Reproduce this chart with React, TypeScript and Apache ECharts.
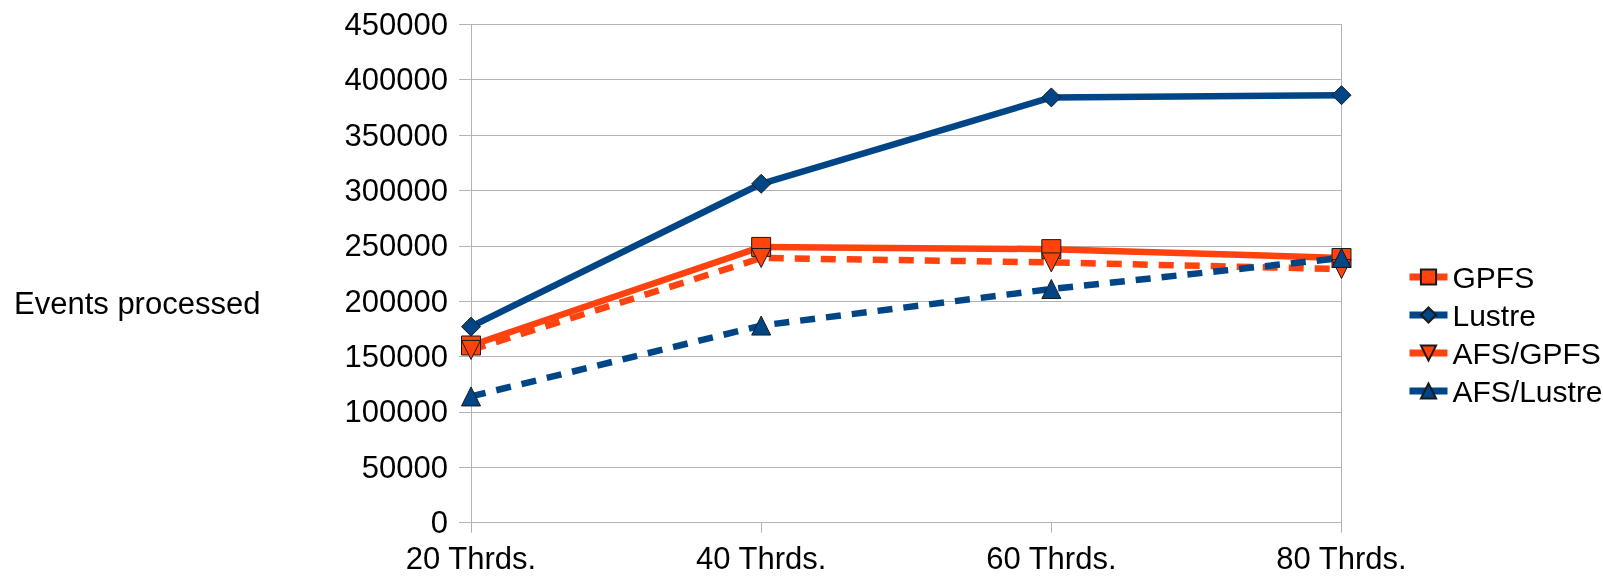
import React, { useEffect, useRef } from "react";
import * as echarts from "echarts";

const categories = ["20 Thrds.", "40 Thrds.", "60 Thrds.", "80 Thrds."];
const gpfs = [160000, 249000, 247000, 239000];
const lustre = [177000, 306000, 384000, 386000];
const afsGpfs = [156000, 239000, 235000, 229000];
const afsLustre = [114000, 178000, 211000, 239000];
const yTicks = { min: 0, max: 450000, interval: 50000 };
const yTitle = "Events processed";

const ORANGE = "#ff420e";
const BLUE = "#004586";
const GRID = "#b3b3b3";
const FONT = "Liberation Sans";

export default function App() {
  const ref = useRef<HTMLDivElement>(null);
  useEffect(() => {
    if (!ref.current) return;
    const chart = echarts.init(ref.current, undefined, { renderer: "svg" });
    const mk = (
      name: string,
      data: number[],
      color: string,
      dashed: boolean,
      symbol: string,
      rotate = 0
    ) => ({
      name,
      type: "line",
      data,
      symbol,
      symbolSize: 19,
      symbolRotate: rotate,
      showAllSymbol: true,
      lineStyle: { color, width: 6.5, type: dashed ? [15, 11] : "solid", cap: "butt" },
      itemStyle: { color, borderColor: "#1a1a1a", borderWidth: 1 },
      emphasis: { disabled: true },
    });
    chart.setOption({
      animation: false,
      textStyle: { fontFamily: FONT },
      grid: { left: 471, right: 261.5, top: 24.3, bottom: 53.3, containLabel: false },
      legend: {
        orient: "vertical",
        left: 1401,
        top: 257,
        itemWidth: 38,
        itemHeight: 19,
        itemGap: 8,
        lineStyle: { width: 7, type: "solid" },
        textStyle: { fontSize: 30, color: "#000", fontFamily: FONT },
        data: ["GPFS", "Lustre", "AFS/GPFS", "AFS/Lustre"],
      },
      xAxis: {
        type: "category",
        data: categories,
        boundaryGap: false,
        axisLine: { show: true, lineStyle: { color: GRID, width: 1 } },
        axisTick: { show: true, length: 10, lineStyle: { color: GRID } },
        axisLabel: {
          fontSize: 31,
          lineHeight: 28,
          color: "#000",
          margin: 22,
          fontFamily: FONT,
        },
        splitLine: { show: false },
      },
      yAxis: [
        {
          type: "value",
          min: yTicks.min,
          max: yTicks.max,
          interval: yTicks.interval,
          axisLine: { show: true, lineStyle: { color: GRID, width: 1 } },
          axisTick: { show: true, length: 12, lineStyle: { color: GRID } },
          axisLabel: {
            fontSize: 31,
            color: "#000",
            margin: 23,
            fontFamily: FONT,
            formatter: (v: number) => String(v),
          },
          splitLine: { show: true, lineStyle: { color: GRID, width: 1 } },
        },
        {
          type: "value",
          position: "right",
          min: yTicks.min,
          max: yTicks.max,
          interval: yTicks.interval,
          axisLine: { show: true, lineStyle: { color: GRID, width: 1 } },
          axisTick: { show: false },
          axisLabel: { show: false },
          splitLine: { show: false },
        },
      ],
      graphic: [
        {
          type: "text",
          left: 14,
          top: 288,
          style: { text: yTitle, fontSize: 31, fill: "#000", fontFamily: FONT },
        },
      ],
      series: [
        mk("GPFS", gpfs, ORANGE, false, "rect"),
        mk("Lustre", lustre, BLUE, false, "diamond"),
        mk("AFS/GPFS", afsGpfs, ORANGE, true, "triangle", 180),
        mk("AFS/Lustre", afsLustre, BLUE, true, "triangle"),
      ],
    });
    return () => chart.dispose();
  }, []);
  return (
    <div
      ref={ref}
      style={{ position: "fixed", left: 0, top: 0, width: 1603, height: 576 }}
    />
  );
}
